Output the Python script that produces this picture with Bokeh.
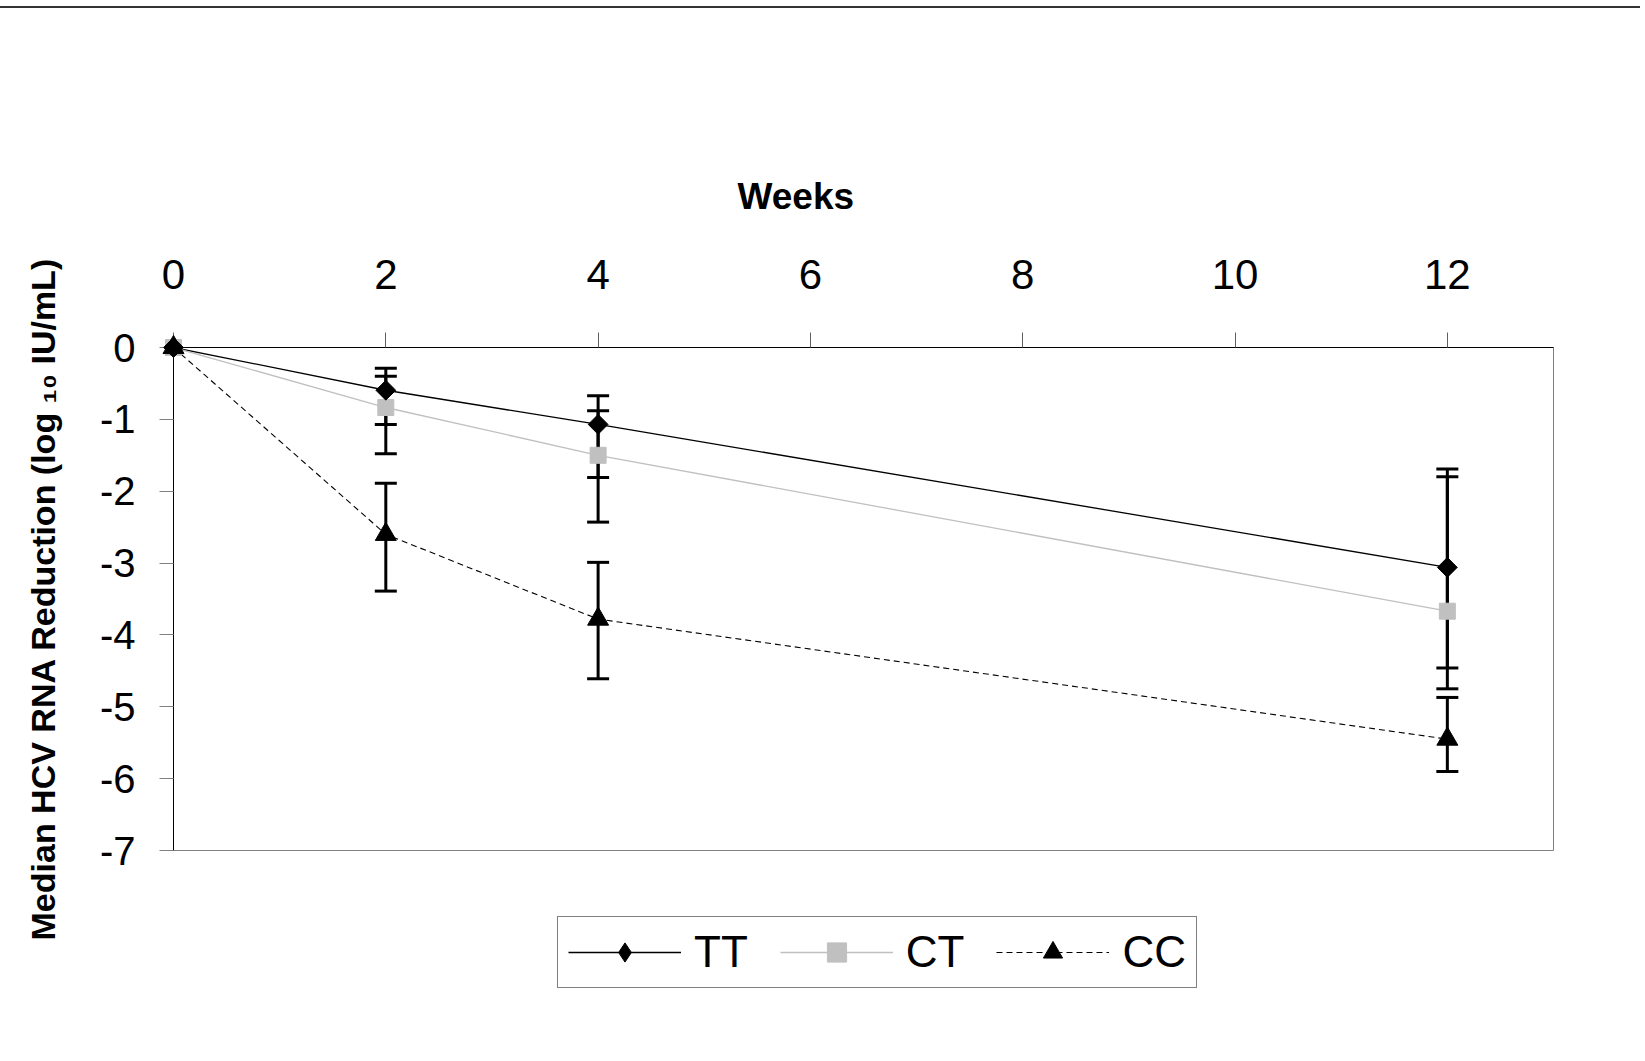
import math
from bokeh.plotting import figure
from bokeh.models import (ColumnDataSource, Whisker, TeeHead, Legend, LegendItem,
                          FixedTicker, Title, Div, Range1d)
from bokeh.layouts import column, row
from bokeh.embed import file_html
from bokeh.resources import INLINE

# ---- data ----
weeks = [0, 2, 4, 12]
tt = [0, -0.595, -1.07, -3.06]
ct = [0, -0.835, -1.50, -3.67]
cc = [0, -2.60, -3.78, -5.45]

err_weeks = [2, 4, 12]
tt_upper = [-0.29, -0.67, -1.69]
tt_lower = [-1.07, -1.81, -4.46]
ct_upper = [-0.40, -0.88, -1.80]
ct_lower = [-1.48, -2.43, -4.75]
cc_upper = [-1.89, -2.99, -4.87]
cc_lower = [-3.39, -4.61, -5.90]

x_ticks = [0, 2, 4, 6, 8, 10, 12]
y_ticks = [0, -1, -2, -3, -4, -5, -6, -7]
series_names = ["TT", "CT", "CC"]
y_title = "Median HCV RNA Reduction (log \u2081\u2080 IU/mL)"

FONT = "Liberation Sans"
LW = 90            # strip holding the vertical axis title
MW = 1550          # main plot width

st_line = [dict(line_color="black", line_width=1.3),
           dict(line_color="#c0c0c0", line_width=1.3),
           dict(line_color="black", line_width=1.1, line_dash="6 4")]
st_mark = [dict(marker="square", angle=math.pi / 4, size=14, fill_color="black", line_color="black"),
           dict(marker="square", size=16, fill_color="#c0c0c0", line_color="#c0c0c0"),
           dict(marker="triangle", size=21, fill_color="black", line_color="black")]
st_key = [dict(marker="diamond", fill_color="black", line_color="black"),
          dict(marker="square", fill_color="#c0c0c0", line_color="#c0c0c0"),
          dict(marker="triangle", fill_color="black", line_color="black")]

# ---------------- main plot ----------------
p = figure(width=MW, height=872, output_backend="svg", toolbar_location=None,
           x_range=Range1d(0, 13), y_range=Range1d(-7, 0),
           x_axis_location="above",
           min_border_left=83, min_border_right=87,
           min_border_top=339, min_border_bottom=30)
p.background_fill_color = "white"
p.border_fill_color = "white"
p.outline_line_color = "#808080"
p.outline_line_width = 1
p.grid.visible = False

xa = p.xaxis[0]
xa.ticker = FixedTicker(ticks=x_ticks)
xa.major_label_overrides = {t: str(t) for t in x_ticks}
xa.minor_tick_line_color = None
xa.major_tick_in = 0
xa.major_tick_out = 15
xa.major_tick_line_color = "#606060"
xa.axis_line_color = "black"
xa.major_label_text_font = FONT
xa.major_label_text_font_size = "42px"
xa.major_label_text_color = "black"
xa.major_label_standoff = 44

ya = p.yaxis[0]
ya.ticker = FixedTicker(ticks=y_ticks)
ya.major_label_overrides = {t: str(t) for t in y_ticks}
ya.minor_tick_line_color = None
ya.major_tick_in = 0
ya.major_tick_out = 14
ya.major_tick_line_color = "#808080"
ya.axis_line_color = "black"
ya.major_label_text_font = FONT
ya.major_label_text_font_size = "40px"
ya.major_label_text_color = "black"
ya.major_label_standoff = 24

weeks_title = Title(text="Weeks", align="left", offset=564, standoff=80,
                    vertical_align="bottom",
                    text_font=FONT, text_font_style="bold", text_font_size="37px",
                    text_color="black")
p.add_layout(weeks_title, "above")

src = ColumnDataSource(dict(w=weeks, tt=tt, ct=ct, cc=cc))
cols = ["tt", "ct", "cc"]
for c, st in zip(cols, st_line):
    p.line("w", c, source=src, **st)

for up, lo in [(tt_upper, tt_lower), (ct_upper, ct_lower), (cc_upper, cc_lower)]:
    es = ColumnDataSource(dict(base=err_weeks, upper=up, lower=lo))
    p.add_layout(Whisker(source=es, base="base", upper="upper", lower="lower",
                         line_color="black", line_width=3,
                         upper_head=TeeHead(size=22, line_width=3, line_color="black"),
                         lower_head=TeeHead(size=22, line_width=3, line_color="black")))

for i in [1, 0, 2]:
    p.scatter("w", cols[i], source=src, level="overlay", **st_mark[i])

# ---------------- legend strip ----------------
lg = figure(width=MW, height=173, output_backend="svg", toolbar_location=None,
            x_range=Range1d(0, 1), y_range=Range1d(100, 101),
            x_axis_location=None, y_axis_location=None,
            min_border=0, outline_line_color=None)
lg.grid.visible = False
lg.background_fill_color = "white"
lg.border_fill_color = "white"
items = []
for i, c in enumerate(cols):
    r_line = lg.line("w", c, source=src, **st_line[i])
    r_mark = lg.scatter("w", c, source=src, **st_key[i])
    items.append(LegendItem(label=series_names[i], renderers=[r_line, r_mark]))

legend = Legend(items=items, orientation="horizontal", location=(384, 65))
legend.label_text_font = FONT
legend.label_text_font_size = "44px"
legend.label_text_color = "black"
legend.glyph_width = 113
legend.glyph_height = 48
legend.label_standoff = 13
legend.spacing = 32
legend.padding = 10
legend.border_line_color = "black"
legend.border_line_width = 1
legend.background_fill_color = "white"
legend.background_fill_alpha = 1
lg.add_layout(legend)

# ---------------- vertical axis title strip ----------------
yl = figure(width=LW, height=1045, output_backend="svg", toolbar_location=None,
            x_range=Range1d(0, 1), y_range=Range1d(0, 1),
            x_axis_location=None, y_axis_location="left",
            min_border_left=80, min_border_right=0,
            min_border_top=200, min_border_bottom=64, outline_line_color=None)
yl.grid.visible = False
yl.background_fill_color = "white"
yl.border_fill_color = "white"
yax = yl.yaxis[0]
yax.ticker = FixedTicker(ticks=[])
yax.axis_line_color = None
yax.major_tick_line_color = None
yax.minor_tick_line_color = None
yax.major_tick_out = 0
yax.major_label_standoff = 0
yax.major_label_text_font_size = "0px"
yax.axis_label = y_title
yax.axis_label_text_font = FONT
yax.axis_label_text_font_style = "bold"
yax.axis_label_text_font_size = "34px"
yax.axis_label_text_color = "black"
yax.axis_label_standoff = 19

top_rule = Div(width=LW + MW, height=2, margin=(6, 0, 0, 0),
               styles={"background-color": "#333333"})
layout = column(top_rule, row(yl, column(p, lg, spacing=0), spacing=0), spacing=0)

open("out.html", "w").write(file_html(layout, INLINE))
